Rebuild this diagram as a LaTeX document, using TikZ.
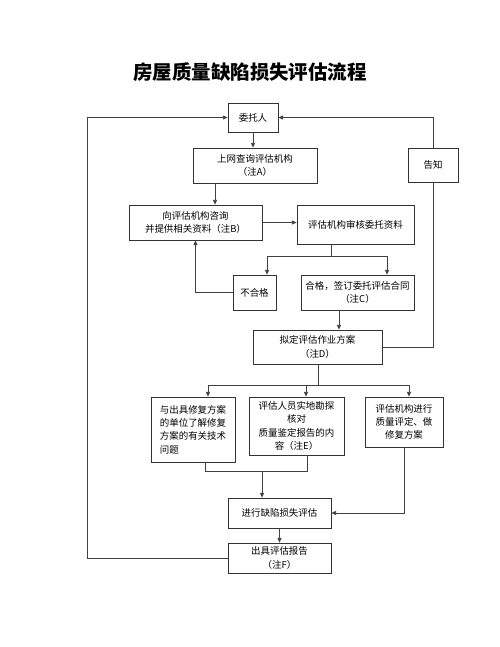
\documentclass[tikz,border=0pt]{standalone}
\usepackage{fontspec}
\setmainfont{Noto Sans CJK SC}
\usetikzlibrary{arrows.meta,calc}
\tikzstyle{box}=[draw=black!80, line width=0.6pt, rectangle, inner sep=1pt, align=center, font=\fontsize{7.1}{10}\selectfont]
\tikzstyle{link}=[draw=black!75, line width=0.6pt]
\tikzstyle{arr}=[link, -{Triangle[length=3.5pt,width=3pt]}]

\begin{document}
\begin{tikzpicture}[x=0.75pt, y=-0.75pt]
            \useasboundingbox[fill=white] (0,0) rectangle (500,647);

            \node[font=\fontsize{14.6}{16}\selectfont\bfseries] (title) at (250,72) {房屋质量缺陷损失评估流程};

            \begin{scope}[every node/.style={box}]
                \node[minimum width=37.5pt, minimum height=21.75pt] (wt) at (253,117.5) {委托人};
                \node[minimum width=93pt, minimum height=26.25pt] (sw) at (255,165.5) {上网查询评估机构\\（注A）};
                \node[minimum width=37.5pt, minimum height=25.5pt] (gz) at (433,165) {告知};
                \node[minimum width=99.75pt, minimum height=26.25pt] (zx) at (195.5,222.5) {向评估机构咨询\\并提供相关资料（注B）};
                \node[minimum width=87.75pt, minimum height=29.25pt] (sh) at (355.5,224.5) {评估机构审核委托资料};
                \node[minimum width=32.25pt, minimum height=26.25pt] (bhg) at (254.5,292.5) {不合格};
                \node[minimum width=84.75pt, minimum height=26.25pt] (hg) at (357.5,292.5) {合格，签订委托评估合同\\（注C）};
                \node[minimum width=96.75pt, minimum height=25.5pt] (nd) at (317.5,347) {拟定评估作业方案\\（注D）};
                \node[minimum width=63pt, minimum height=48.75pt, align=left] (ljs) at (193,429.5) {与出具修复方案\\的单位了解修复\\方案的有关技术\\问题};
                \node[minimum width=71.25pt, minimum height=43.5pt] (kc) at (296.5,426) {评估人员实地勘探\\核对\\质量鉴定报告的内\\容（注E）};
                \node[minimum width=58.5pt, minimum height=37.5pt] (pd) at (404,422) {评估机构进行\\质量评定、做\\修复方案};
                \node[minimum width=77.25pt, minimum height=22.5pt] (pg) at (279.5,513) {进行缺陷损失评估};
                \node[minimum width=77.25pt, minimum height=22.5pt] (bg) at (279.5,558) {出具评估报告\\（注F）};
            \end{scope}

            % branch points
            \coordinate (c1) at (331,256);
            \coordinate (c1l) at (267,256);
            \coordinate (c1r) at (387,256);
            \coordinate (c2) at (339,320);
            \coordinate (c3) at (318,385);
            \coordinate (c3l) at (208,385);
            \coordinate (c3m) at (306,385);
            \coordinate (c3r) at (409,385);
            \coordinate (c4) at (262,471);
            \coordinate (c4l) at (205,471);
            \coordinate (c4r) at (307,471);
            \coordinate (c5) at (215,190);
            \coordinate (lft) at (87,558);

            \draw[arr] (wt) -- (wt.south |- sw.north);
            \draw[arr] (c5 |- sw.south) -- (c5 |- zx.north);
            \draw[arr] (zx.east) -- (zx.east -| sh.west);
            \draw[link] (sh.south -| c1) -- (c1);
            \draw[link] (c1l) -- (c1r);
            \draw[arr] (c1l) -- (c1l |- bhg.north);
            \draw[arr] (c1r) -- (c1r |- hg.north);
            \draw[arr] (bhg.west) -| (zx.south);
            \draw[arr] (c2 |- hg.south) -- (c2 |- nd.north);
            \draw[link] (nd.east) -| (gz.south);
            \draw[arr] (gz.north) |- (wt.east);
            \draw[link] (nd.south -| c3) -- (c3);
            \draw[link] (c3l) -- (c3r);
            \draw[arr] (c3l) -- (c3l |- ljs.north);
            \draw[arr] (c3m) -- (c3m |- kc.north);
            \draw[arr] (c3r) -- (c3r |- pd.north);
            \draw[link] (c4l |- ljs.south) -- (c4l) -- (c4r) -- (c4r |- kc.south);
            \draw[arr] (c4) -- (c4 |- pg.north);
            \draw[arr] (pd.south) |- (pg.east);
            \draw[arr] (pg) -- (bg);
            \draw[arr] (bg.west) -- (lft) |- (wt.west);
\end{tikzpicture}
\end{document}
